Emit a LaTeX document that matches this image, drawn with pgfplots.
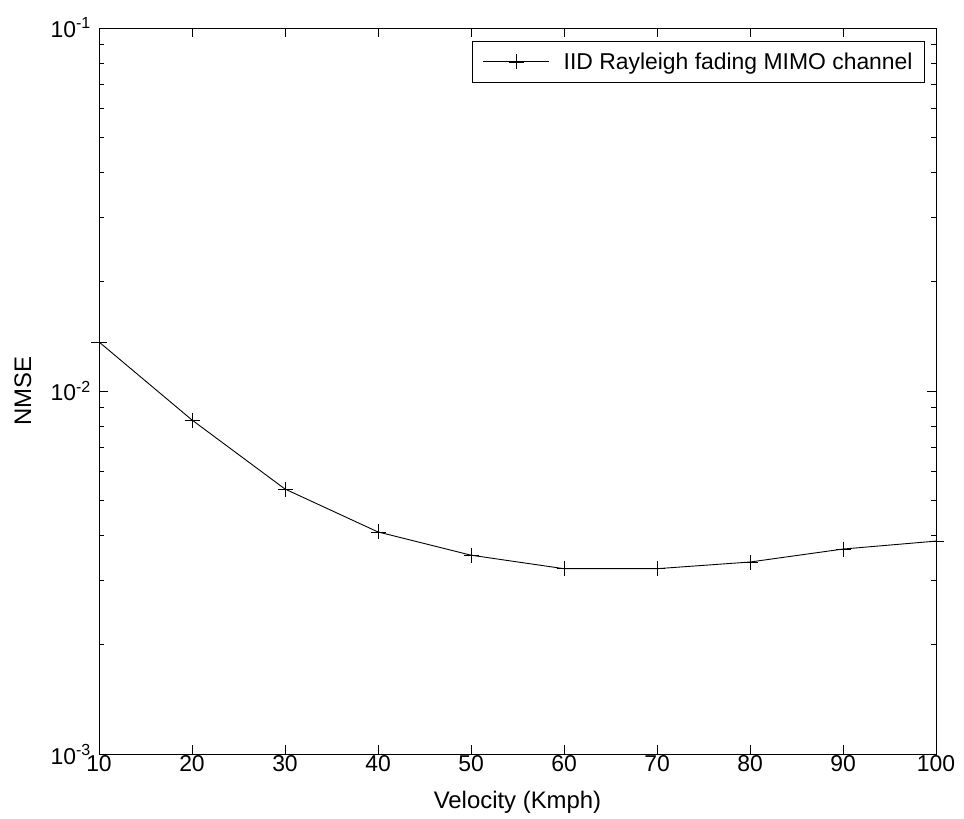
\documentclass[border=0pt]{standalone}
\usepackage{fontspec}
\setmainfont{Liberation Sans}
\usepackage{pgfplots}
\pgfplotsset{compat=1.18}
\begin{document}
\begin{tikzpicture}
\useasboundingbox (0,0) rectangle (964bp,819bp);
\begin{axis}[
  at={(99bp,65bp)}, anchor=south west,
  scale only axis, width=837bp, height=726bp,
  ymode=log,
  xmin=10, xmax=100, ymin=1e-3, ymax=1e-1,
  xtick={10,20,...,100},
  ytick={1e-3,1e-2,1e-1},
  yticklabels={10\textsuperscript{-3},10\textsuperscript{-2},10\textsuperscript{-1}},
  minor ytick={2e-3,3e-3,4e-3,5e-3,6e-3,7e-3,8e-3,9e-3,2e-2,3e-2,4e-2,5e-2,6e-2,7e-2,8e-2,9e-2},
  tick align=inside,
  major tick length=9bp, minor tick length=5bp,
  every tick/.style={black, line width=0.8bp},
  axis line style={black, line width=1bp},
  /pgf/number format/assume math mode=true,
  tick label style={font=\fontsize{23}{27}\selectfont},
  xticklabel style={inner sep=1bp, yshift=0bp},
  yticklabel style={inner sep=1bp, xshift=-7bp},
  xlabel={Velocity (Kmph)},
  ylabel={NMSE},
  label style={font=\fontsize{24}{28}\selectfont},
  xlabel style={at={(axis description cs:0.5,-0.0661)}, anchor=center},
  ylabel style={at={(axis description cs:-0.0908,0.5)}, anchor=center},
  legend style={at={(1,1)}, xshift=-11bp, yshift=-13bp, anchor=north east,
    draw=black, line width=0.8bp, inner xsep=10bp, inner ysep=9.5bp,
    font=\fontsize{23}{27}\selectfont, cells={anchor=west},
    /tikz/every odd column/.append style={column sep=12bp}},
  legend image code/.code={\draw[#1, mark repeat=2, mark phase=2] plot coordinates {(0bp,0bp) (33bp,0bp) (66bp,0bp)};},
]
\addplot[black, line width=0.9bp, mark=+, mark size=7.5bp, mark options={line width=0.8bp}] coordinates {
  (10,0.01365) (20,0.00832) (30,0.00537) (40,0.00409) (50,0.00353)
  (60,0.00324) (70,0.00324) (80,0.00338) (90,0.00367) (100,0.00386)
};
\addlegendentry{IID Rayleigh fading MIMO channel}
\end{axis}
\end{tikzpicture}
\end{document}
